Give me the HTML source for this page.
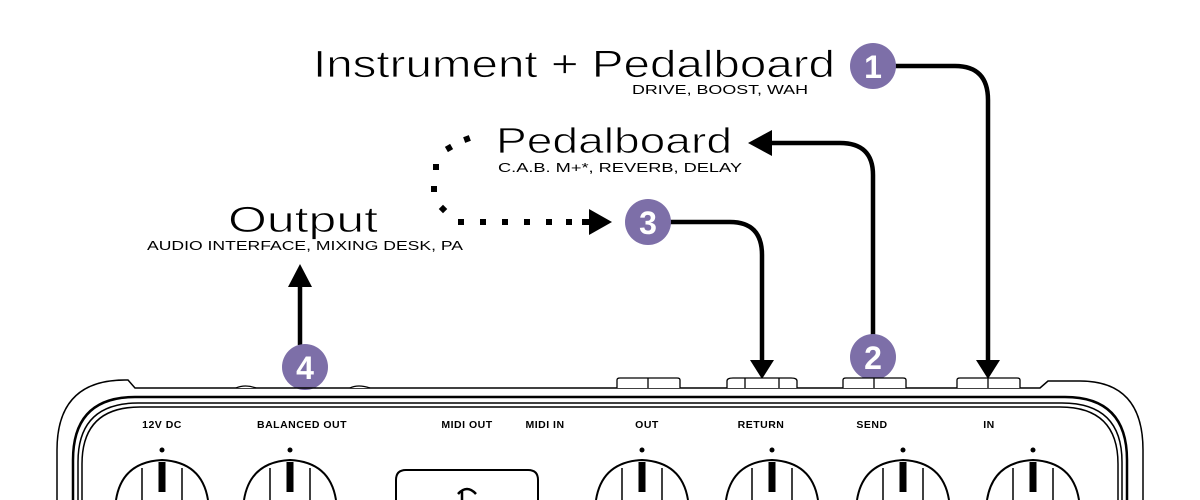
<!DOCTYPE html>
<html><head><style>body{margin:0;background:#fff}svg{display:block}</style></head><body>
<svg width="1200" height="500" viewBox="0 0 1200 500" xmlns="http://www.w3.org/2000/svg" font-family="Liberation Sans, sans-serif">
<g fill="#000">
<text x="313" y="77" font-size="38" textLength="522" lengthAdjust="spacingAndGlyphs" stroke="#fff" stroke-width="0.8" paint-order="normal">Instrument + Pedalboard</text>
<text x="632" y="94" font-size="13" textLength="176" lengthAdjust="spacingAndGlyphs">DRIVE, BOOST, WAH</text>
<text x="496" y="153" font-size="36" textLength="236" lengthAdjust="spacingAndGlyphs" stroke="#fff" stroke-width="0.8">Pedalboard</text>
<text x="498" y="172" font-size="13" textLength="244" lengthAdjust="spacingAndGlyphs">C.A.B. M+*, REVERB, DELAY</text>
<text x="228" y="232" font-size="36" textLength="150" lengthAdjust="spacingAndGlyphs" stroke="#fff" stroke-width="0.8">Output</text>
<text x="147" y="250" font-size="13" textLength="316" lengthAdjust="spacingAndGlyphs">AUDIO INTERFACE, MIXING DESK, PA</text>
</g>
<g fill="none" stroke="#000" stroke-width="4.5">
<path d="M895 66 H955 Q988 66 988 100 V362"/>
<path d="M873 335 V175 Q873 143 840 143 H770"/>
<path d="M670 222 H730 Q762 222 762 255 V362"/>
<path d="M300 345 V285"/>
</g>
<g fill="#000">
<rect x="464" y="136" width="6" height="6" transform="rotate(-20 467 139)"/>
<rect x="446" y="145" width="6" height="6" transform="rotate(-30 449 148)"/>
<rect x="433" y="164" width="6" height="6"/>
<rect x="431" y="186" width="6" height="6"/>
<rect x="440" y="206" width="6" height="6" transform="rotate(45 443 209)"/>
<rect x="458" y="219" width="6" height="6"/>
<rect x="480" y="219" width="6" height="6"/>
<rect x="502" y="219" width="6" height="6"/>
<rect x="524" y="219" width="6" height="6"/>
<rect x="546" y="219" width="6" height="6"/>
<rect x="566" y="219" width="6" height="6"/>
<rect x="582" y="219" width="8" height="6"/>
<polygon points="976,360 1000,360 988,379"/>
<polygon points="750,360 774,360 762,379"/>
<polygon points="748,143 772,130 772,156"/>
<polygon points="288,287 312,287 300,264"/>
<polygon points="589,209 589,235 612,222"/>
</g>
<g fill="#7d6fa8">
<circle cx="873" cy="66" r="23"/><circle cx="873" cy="357" r="23"/>
<circle cx="648" cy="222" r="23"/><circle cx="305" cy="367" r="23"/>
</g>
<g fill="#fff" font-weight="bold" font-size="32" text-anchor="middle">
<text x="873" y="78">1</text><text x="873" y="369">2</text><text x="648" y="234">3</text><text x="305" y="379">4</text>
</g>
<g fill="none" stroke="#000" stroke-width="1.5">
<path d="M57 500 V450 Q57 380 125 380 H128 L135 388 H1040 L1048 381 H1080 Q1143 381 1143 450 V500"/>
<path d="M73 500 V460 Q73 397 135 397 H1065 Q1127 397 1127 460 V500" stroke-width="2.5"/>
<path d="M78 500 V462 Q78 403 138 403 H1062 Q1122 403 1122 462 V500"/>
<path d="M82 500 V464 Q82 407 140 407 H1060 Q1118 407 1118 464 V500"/>
<path d="M396 500 V480 Q396 470 406 470 H528 Q538 470 538 480 V500" stroke-width="2"/>
<path d="M462 500 V490 M458 494 Q467 484 476 494" stroke-width="2.5"/>
</g>
<g fill="#fff" stroke="#000" stroke-width="1.3">
<path d="M617 388 V380 Q617 378 620 378 H677 Q680 378 680 380 V388 M648 378 V388"/>
<path d="M727 388 V381 Q727 378 733 378 H791 Q797 378 797 381 V388 M745 378 V388 M779 378 V388"/>
<path d="M843 388 V380 Q843 378 846 378 H903 Q906 378 906 380 V388 M874 378 V388"/>
<path d="M957 388 V380 Q957 378 960 378 H1017 Q1020 378 1020 380 V388 M988 378 V388"/>
<path d="M236 388 Q245 384 256 388 M350 388 Q358 384 370 388"/>
</g>
<g font-size="10.5" font-weight="bold" text-anchor="middle" fill="#000" letter-spacing="0.5">
<text x="162" y="428">12V DC</text><text x="302" y="428">BALANCED OUT</text>
<text x="467" y="428">MIDI OUT</text><text x="545" y="428">MIDI IN</text>
<text x="647" y="428">OUT</text><text x="761" y="428">RETURN</text>
<text x="872" y="428">SEND</text><text x="989" y="428">IN</text>
</g>
<g stroke="#000" fill="none">
<g transform="translate(162,0)"><circle cx="0" cy="450" r="2.5" fill="#000" stroke="none"/><path d="M-46 500 Q-40 462 0 460 Q40 462 46 500" stroke-width="2"/><path d="M-20 468 V500 M20 468 V500" stroke-width="1.5"/><rect x="-3.5" y="462" width="7" height="30" fill="#000" stroke="none"/></g>
<g transform="translate(290,0)"><circle cx="0" cy="450" r="2.5" fill="#000" stroke="none"/><path d="M-46 500 Q-40 462 0 460 Q40 462 46 500" stroke-width="2"/><path d="M-20 468 V500 M20 468 V500" stroke-width="1.5"/><rect x="-3.5" y="462" width="7" height="30" fill="#000" stroke="none"/></g>
<g transform="translate(642,0)"><circle cx="0" cy="450" r="2.5" fill="#000" stroke="none"/><path d="M-46 500 Q-40 462 0 460 Q40 462 46 500" stroke-width="2"/><path d="M-20 468 V500 M20 468 V500" stroke-width="1.5"/><rect x="-3.5" y="462" width="7" height="30" fill="#000" stroke="none"/></g>
<g transform="translate(772,0)"><circle cx="0" cy="450" r="2.5" fill="#000" stroke="none"/><path d="M-46 500 Q-40 462 0 460 Q40 462 46 500" stroke-width="2"/><path d="M-20 468 V500 M20 468 V500" stroke-width="1.5"/><rect x="-3.5" y="462" width="7" height="30" fill="#000" stroke="none"/></g>
<g transform="translate(903,0)"><circle cx="0" cy="450" r="2.5" fill="#000" stroke="none"/><path d="M-46 500 Q-40 462 0 460 Q40 462 46 500" stroke-width="2"/><path d="M-20 468 V500 M20 468 V500" stroke-width="1.5"/><rect x="-3.5" y="462" width="7" height="30" fill="#000" stroke="none"/></g>
<g transform="translate(1033,0)"><circle cx="0" cy="450" r="2.5" fill="#000" stroke="none"/><path d="M-46 500 Q-40 462 0 460 Q40 462 46 500" stroke-width="2"/><path d="M-20 468 V500 M20 468 V500" stroke-width="1.5"/><rect x="-3.5" y="462" width="7" height="30" fill="#000" stroke="none"/></g>
</g>
</svg>
</body></html>
